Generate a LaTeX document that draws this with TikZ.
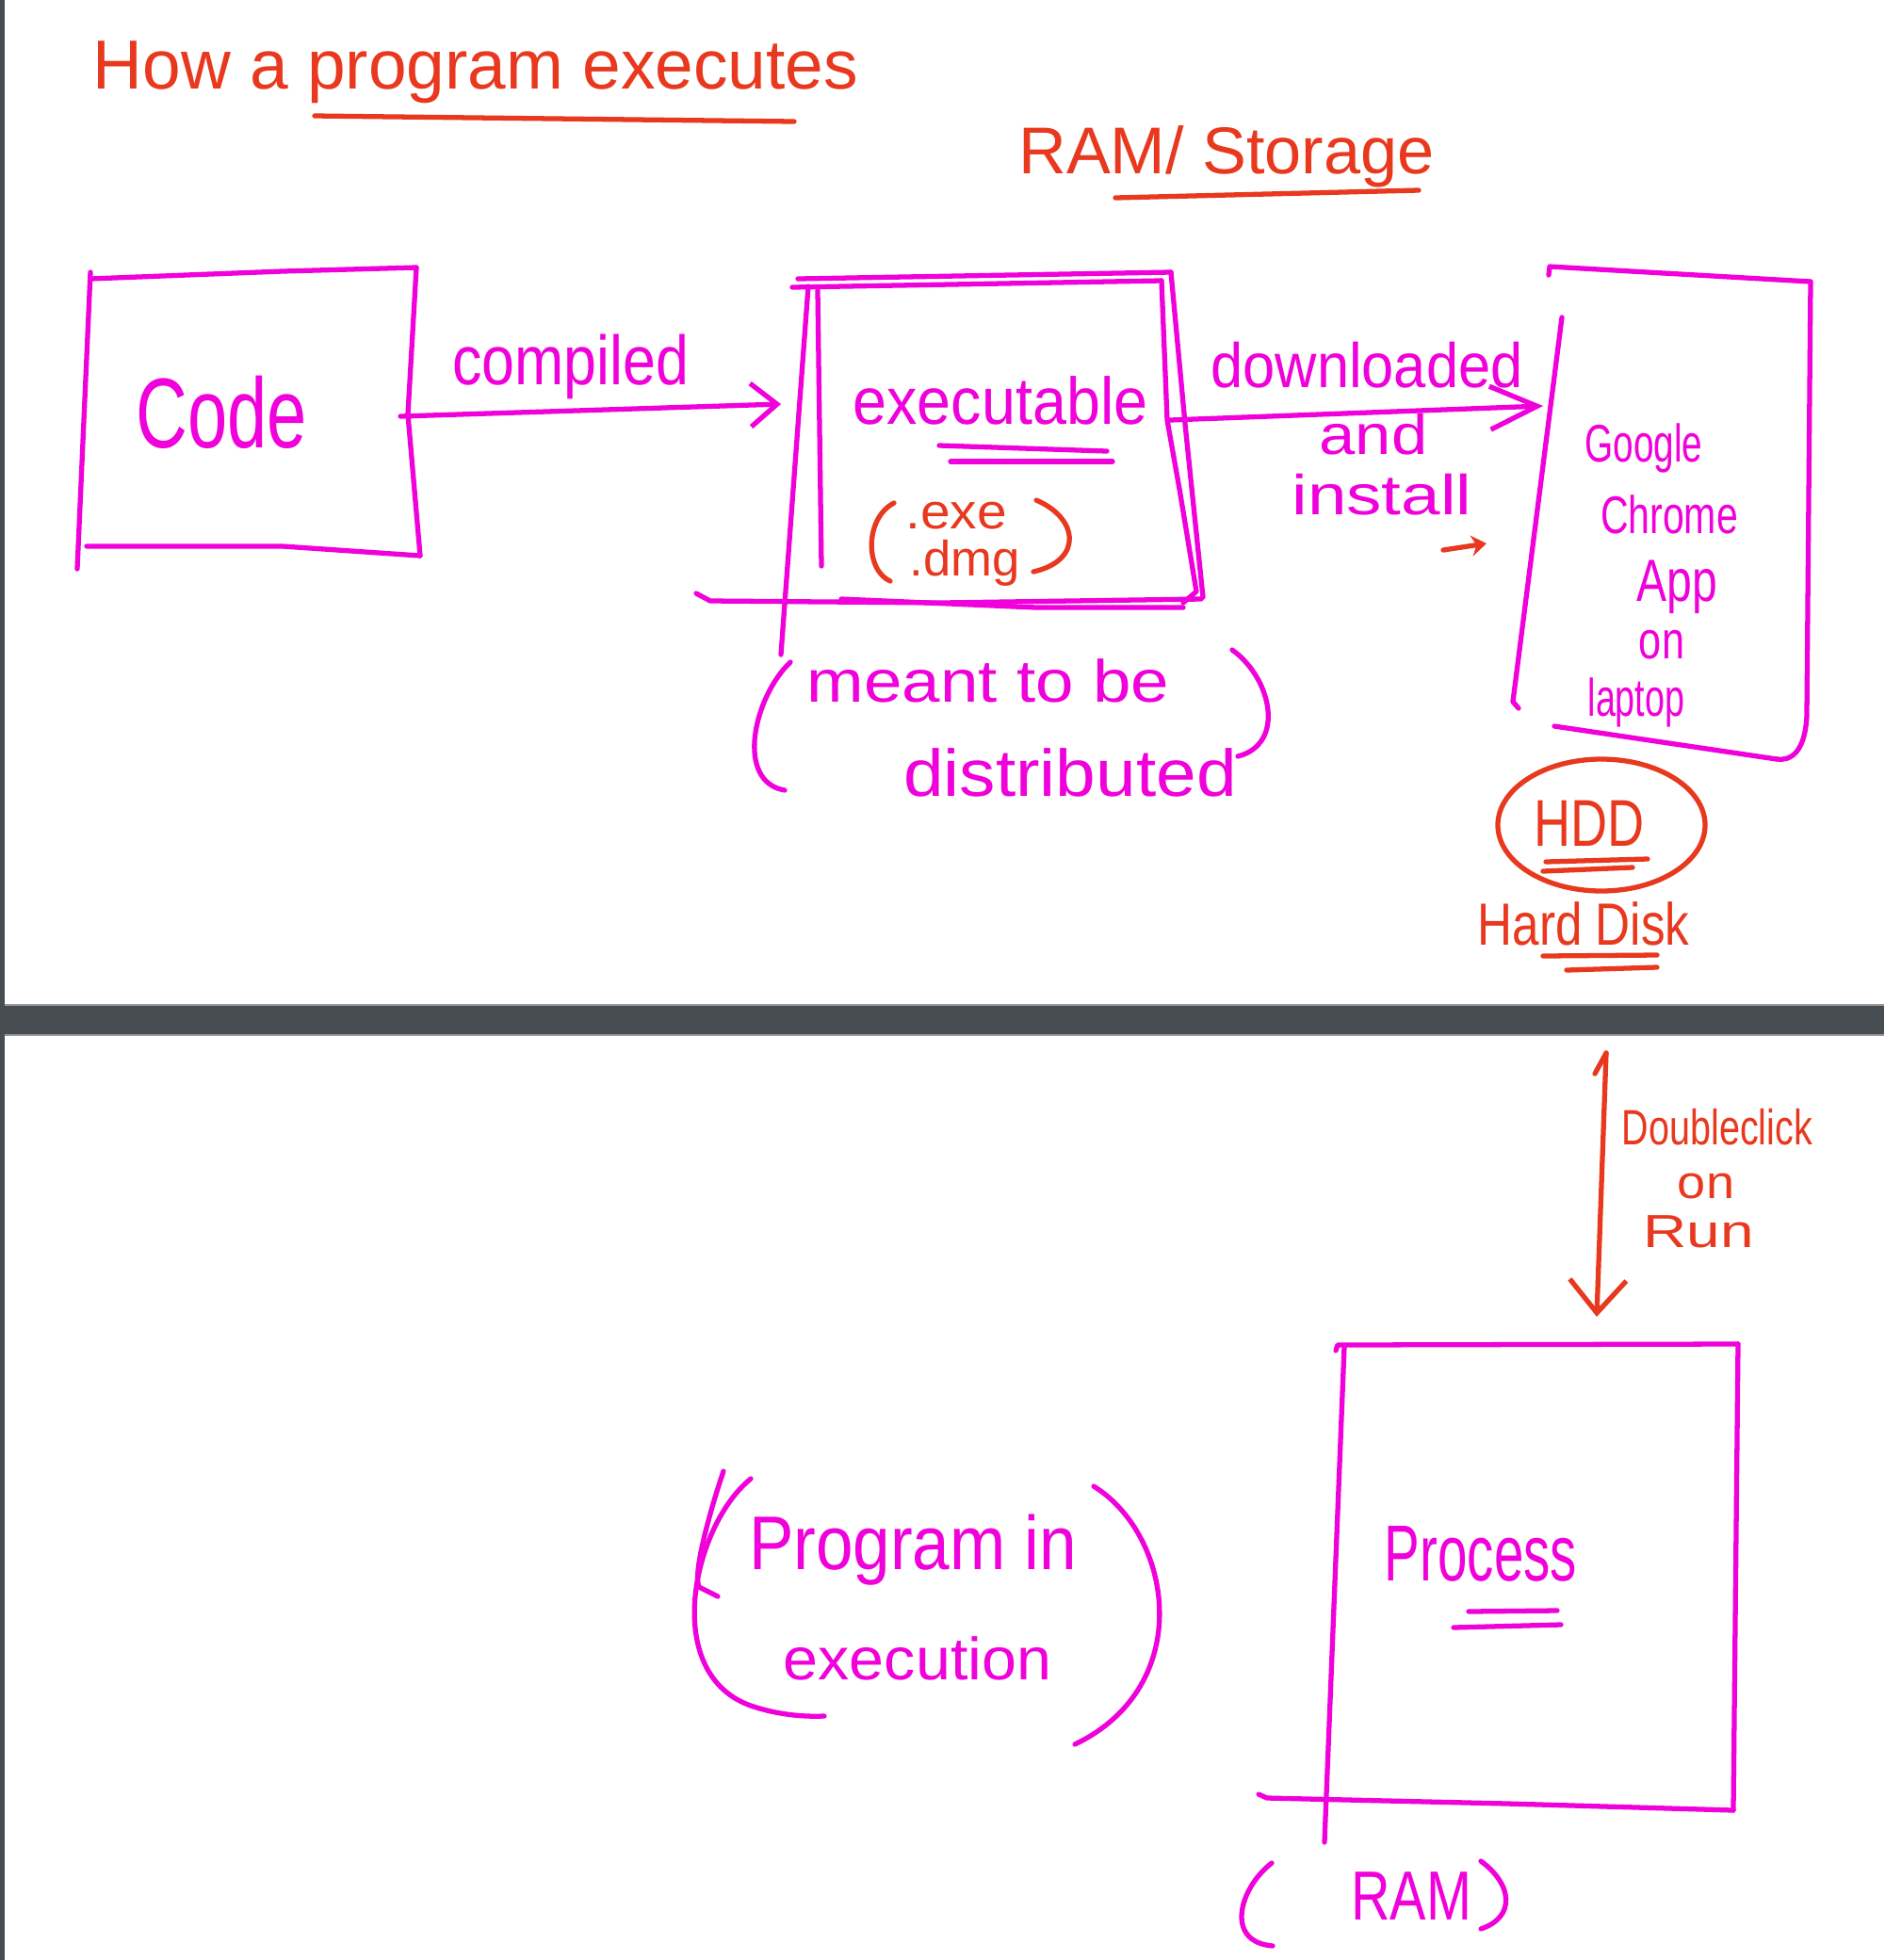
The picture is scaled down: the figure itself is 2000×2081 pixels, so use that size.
\documentclass[tikz,border=0pt]{standalone}
\usepackage{fontspec}
\usepackage{graphicx}
\setmainfont{Liberation Sans}
\usetikzlibrary{arrows.meta}
\definecolor{mag}{RGB}{240,0,218}
\definecolor{redink}{RGB}{232,56,30}
\definecolor{barc}{RGB}{72,77,82}
\definecolor{barl}{RGB}{150,154,158}
\newcommand{\hwt}[3]{\scalebox{#2}[1]{\fontsize{#1}{#1}\selectfont #3}}
\begin{document}
\begin{tikzpicture}[x=0.1mm,y=-0.1mm,
  mpen/.style={draw=mag,line width=1.5pt,line cap=round,line join=round},
  rpen/.style={draw=redink,line width=1.5pt,line cap=round,line join=round},
  mtext/.style={text=mag,inner sep=0pt,anchor=base},
  rtext/.style={text=redink,inner sep=0pt,anchor=base}]
\fill[white] (0,0) rectangle (2000,2081);
\useasboundingbox (0,0) rectangle (2000,2081);
% window chrome
\fill[barc] (0,0) rectangle (5,2081);
\fill[barc] (0,1067) rectangle (2000,1099);
\draw[barl,line width=0.8pt] (5,1067) -- (2000,1067) (5,1099) -- (2000,1099);

% ---------- top panel ----------
\node[rtext] (title) at (505,94) {\hwt{21}{0.99}{How a program executes}};
\draw[rpen] (334,123) -- (843,129);
\node[rtext] (ramst) at (1302,184) {\hwt{20}{1.0}{RAM/ Storage}};
\draw[rpen] (1184,210) -- (1506,202);

% Code box
\draw[mpen] (96,289) -- (82,604);
\draw[mpen] (96,296) -- (300,288) -- (442,284);
\draw[mpen] (442,284) -- (433,440) -- (446,590);
\draw[mpen] (92,580) -- (300,580) -- (446,590);
\node[mtext] (code) at (235,475) {\hwt{30}{0.72}{Code}};

% compiled arrow
\coordinate (ca) at (425,442);
\coordinate (cb) at (829,429);
\draw[mpen,-{Straight Barb[length=2.8mm,width=4.6mm]}] (ca) -- (cb);
\node[mtext] (compiled) at (606,408) {\hwt{21}{0.85}{compiled}};

% executable box
\draw[mpen] (847,296) -- (1243,289);
\draw[mpen] (841,305) -- (1233,298);
\draw[mpen] (1243,289) -- (1258,450) -- (1277,634);
\draw[mpen] (1233,298) -- (1239,446) -- (1252,519) -- (1270,628) -- (1256,640);
\draw[mpen] (739,630) -- (754,638) -- (1000,640) -- (1275,636);
\draw[mpen] (893,636) -- (1100,645) -- (1256,645);
\draw[mpen] (858,304) -- (829,695);
\draw[mpen] (868,308) -- (872,601);
\node[mtext] (exe) at (1062,450) {\hwt{20}{0.92}{executable}};
\draw[mpen] (997,473) -- (1175,479);
\draw[mpen] (1009,490) -- (1181,490);
\node[rtext] (dexe) at (1015,561) {\hwt{15}{1.08}{.exe}};
\node[rtext] (ddmg) at (1024,611) {\hwt{15}{1.0}{.dmg}};
\draw[rpen] (949,534) .. controls (918,550) and (918,605) .. (945,617);
\draw[rpen] (1100,531) .. controls (1145,550) and (1150,595) .. (1097,607);

% meant to be distributed
\node[mtext] (meant) at (1049,745) {\hwt{18}{1.15}{meant to be}};
\node[mtext] (distr) at (1136,845) {\hwt{20}{1.09}{distributed}};
\draw[mpen] (839,703) .. controls (800,740) and (780,830) .. (833,839);
\draw[mpen] (1308,690) .. controls (1350,720) and (1365,790) .. (1314,803);

% downloaded arrow
\coordinate (da) at (1242,446);
\coordinate (db) at (1638,431);
\draw[mpen,-{Straight Barb[length=5mm,width=4.6mm]}] (da) -- (db);
\node[mtext] (down) at (1451,411) {\hwt{19}{0.92}{downloaded}};
\node[mtext] (and) at (1458,482) {\hwt{17}{1.15}{and}};
\node[mtext] (inst) at (1467,546) {\hwt{17}{1.25}{install}};
\coordinate (sa) at (1532,584);
\coordinate (sb) at (1578,577);
\draw[rpen,-{Stealth[length=1.6mm,width=2.2mm]}] (sa) -- (sb);

% Chrome box
\draw[mpen] (1644,292) -- (1645,283) -- (1922,299);
\draw[mpen] (1922,299) -- (1918,760) .. controls (1916,800) and (1900,808) .. (1886,806);
\draw[mpen] (1650,771) -- (1886,806);
\draw[mpen] (1658,337) -- (1606,745) -- (1612,752);
\node[mtext] (goog) at (1745,490) {\hwt{16}{0.69}{Google}};
\node[mtext] (chrome) at (1772,566) {\hwt{16}{0.73}{Chrome}};
\node[mtext] (app) at (1780,638) {\hwt{18}{0.76}{App}};
\node[mtext] (on1) at (1764,699) {\hwt{16}{0.77}{on}};
\node[mtext] (lapt) at (1737,760) {\hwt{16}{0.67}{laptop}};

% HDD
\draw[rpen] (1700,876) ellipse [x radius=11mm, y radius=7mm];
\node[rtext] (hdd) at (1687,898) {\hwt{20}{0.77}{HDD}};
\draw[rpen] (1641,915) -- (1749,912);
\draw[rpen] (1638,925) -- (1733,921);
\node[rtext] (hdisk) at (1681,1003) {\hwt{18}{0.81}{Hard Disk}};
\draw[rpen] (1638,1015) -- (1759,1014);
\draw[rpen] (1663,1030) -- (1759,1027);

% ---------- bottom panel ----------
\coordinate (ra) at (1705,1118);
\coordinate (rb) at (1695,1398);
\draw[rpen] (1693,1140) -- (ra);
\draw[rpen,-{Straight Barb[length=3.5mm,width=6mm]}] (ra) -- (rb);
\node[rtext] (dbl) at (1823,1215) {\hwt{15}{0.75}{Doubleclick}};
\node[rtext] (on2) at (1811,1272) {\hwt{14}{1.1}{on}};
\node[rtext] (run) at (1803,1324) {\hwt{14}{1.3}{Run}};

% Process box
\draw[mpen] (1418,1434) -- (1420,1428) -- (1845,1427);
\draw[mpen] (1845,1427) -- (1840,1922);
\draw[mpen] (1336,1905) -- (1345,1909) -- (1600,1915) -- (1840,1922);
\draw[mpen] (1427,1430) -- (1406,1956);
\node[mtext] (proc) at (1572,1678) {\hwt{24}{0.67}{Process}};
\draw[mpen] (1559,1711) -- (1653,1710);
\draw[mpen] (1543,1728) -- (1657,1725);

% (RAM)
\node[mtext] (ram) at (1498,2038) {\hwt{21}{0.78}{RAM}};
\draw[mpen] (1350,1978) .. controls (1315,2005) and (1300,2062) .. (1351,2066);
\draw[mpen] (1572,1976) .. controls (1605,2000) and (1610,2035) .. (1572,2048);

% (Program in execution)
\node[mtext] (prog) at (969,1666) {\hwt{23}{0.88}{Program in}};
\node[mtext] (execu) at (974,1783) {\hwt{18}{1.05}{execution}};
\draw[mpen] (797,1570) .. controls (735,1620) and (700,1780) .. (800,1812) .. controls (825,1820) and (850,1823) .. (875,1822);
\draw[mpen] (768,1562) .. controls (755,1600) and (735,1670) .. (742,1685) -- (762,1695);
\draw[mpen] (1161,1578) .. controls (1245,1630) and (1270,1790) .. (1141,1852);
\end{tikzpicture}
\end{document}
